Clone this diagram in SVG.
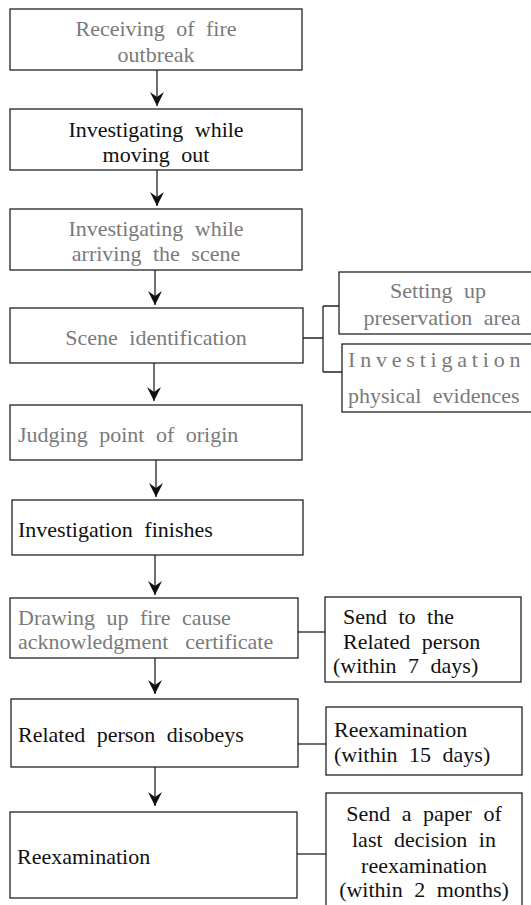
<svg xmlns="http://www.w3.org/2000/svg" width="531" height="905" viewBox="0 0 531 905">
<style>
rect{fill:#fff;stroke:#222;stroke-width:1.3}
text{font-family:"Liberation Serif","DejaVu Serif",serif;font-size:22px;word-spacing:6px}
.g{fill:#7a7a7a}
.k{fill:#111}
.c{text-anchor:middle}
.ln{fill:none;stroke:#222;stroke-width:1.3}
</style>
<defs>
<marker id="ah" viewBox="0 0 14 14" refX="14" refY="7" markerWidth="14" markerHeight="14" markerUnits="userSpaceOnUse" orient="auto">
<path d="M0,0 L14,7 L0,14 L5,7 Z" fill="#111"/>
</marker>
</defs>
<rect x="-10" y="-10" width="560" height="930" style="fill:#fff;stroke:none"/>
<g id="n1"><rect x="10" y="9" width="292" height="61"/><text class="g c" x="156" y="36">Receiving of fire</text><text class="g c" x="156" y="62">outbreak</text></g>
<g id="n2"><rect x="10" y="109" width="292" height="61"/><text class="k c" x="156" y="137">Investigating while</text><text class="k c" x="156" y="162">moving out</text></g>
<g id="n3"><rect x="10" y="209" width="292" height="61"/><text class="g c" x="156" y="236">Investigating while</text><text class="g c" x="156" y="261">arriving the scene</text></g>
<g id="n4"><rect x="10" y="308" width="293" height="55"/><text class="g c" x="156" y="345">Scene identification</text></g>
<g id="n4a"><rect x="339" y="272" width="200" height="62"/><text class="g c" x="438" y="298">Setting up</text><text class="g c" x="442" y="325">preservation area</text></g>
<g id="n4b"><rect x="342" y="344" width="197" height="68"/><text class="g" x="348" y="367" style="letter-spacing:4.8px">Investigation</text><text class="g" x="348" y="403">physical evidences</text></g>
<g id="n5"><rect x="10" y="405" width="292" height="55"/><text class="g" x="18" y="442">Judging point of origin</text></g>
<g id="n6"><rect x="12" y="500" width="291" height="55"/><text class="k" x="18" y="537">Investigation finishes</text></g>
<g id="n7"><rect x="10" y="598" width="288" height="60"/><text class="g" x="18" y="625">Drawing up fire cause</text><text class="g" x="18" y="649">acknowledgment<tspan dx="17">certificate</tspan></text></g>
<g id="n7a"><rect x="325" y="597" width="196" height="85"/><text class="k" x="343" y="624">Send to the</text><text class="k" x="343" y="649">Related person</text><text class="k" x="333" y="673">(within 7 days)</text></g>
<g id="n8"><rect x="11" y="699" width="287" height="68"/><text class="k" x="18" y="742">Related person disobeys</text></g>
<g id="n8a"><rect x="326" y="707" width="196" height="68"/><text class="k" x="334" y="737">Reexamination</text><text class="k" x="334" y="762">(within 15 days)</text></g>
<g id="n9"><rect x="10" y="812" width="287" height="86"/><text class="k" x="17" y="864">Reexamination</text></g>
<g id="n9a"><rect x="326" y="793" width="196" height="121"/><text class="k c" x="424" y="821">Send a paper of</text><text class="k c" x="424" y="847">last decision in</text><text class="k c" x="424" y="873">reexamination</text><text class="k c" x="424" y="897">(within 2 months)</text></g>
<g id="connectors">
<line class="ln" x1="157" y1="70" x2="157" y2="106" marker-end="url(#ah)"/>
<line class="ln" x1="157" y1="170" x2="157" y2="206" marker-end="url(#ah)"/>
<line class="ln" x1="155" y1="270" x2="155" y2="305" marker-end="url(#ah)"/>
<line class="ln" x1="154" y1="363" x2="154" y2="401" marker-end="url(#ah)"/>
<line class="ln" x1="156" y1="460" x2="156" y2="497" marker-end="url(#ah)"/>
<line class="ln" x1="155" y1="555" x2="155" y2="595" marker-end="url(#ah)"/>
<line class="ln" x1="155" y1="658" x2="155" y2="694" marker-end="url(#ah)"/>
<line class="ln" x1="155" y1="767" x2="155" y2="806" marker-end="url(#ah)"/>
<path class="ln" d="M303,338 H323 M323,306 V372 M323,306 H339 M323,372 H342"/>
<line class="ln" x1="298" y1="632" x2="325" y2="632"/>
<line class="ln" x1="298" y1="744" x2="326" y2="744"/>
<line class="ln" x1="297" y1="854" x2="326" y2="854"/>
</g>
</svg>
